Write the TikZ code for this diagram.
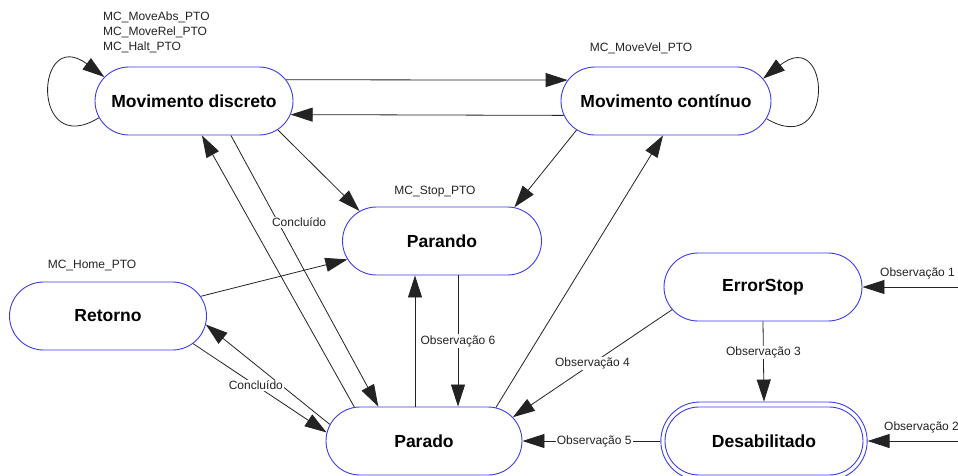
\documentclass[tikz,border=0pt]{standalone}
\usepackage{fontspec}
\setmainfont{Liberation Sans}
\usetikzlibrary{shapes.misc,arrows.meta,calc}
\definecolor{stateblue}{RGB}{60,60,235}
\definecolor{edgegray}{RGB}{35,35,35}

\begin{document}
\begin{tikzpicture}[x=1pt,y=-1pt,
  state/.style={rounded rectangle, draw=stateblue, line width=0.9pt, fill=white,
    minimum height=68pt, inner sep=0pt, font=\fontsize{17.5}{20}\selectfont\bfseries},
  trans/.style={draw=edgegray, line width=0.8pt, -{Triangle[length=22pt,width=14pt]}},
  lbl/.style={font=\fontsize{12}{14}\selectfont, text=edgegray, inner sep=1pt},
  onedge/.style={lbl, fill=white},
]
\clip (0,0) rectangle (958,475);
\fill[white] (0,0) rectangle (958,475);

% states
\node[state, minimum width=198pt] (md) at (194,101) {Movimento discreto};
\node[state, minimum width=210pt] (mc) at (666,101) {Movimento contínuo};
\node[state, minimum width=199pt] (parando) at (442,241) {Parando};
\node[state, minimum width=197pt] (retorno) at (108,316) {Retorno};
\node[state, minimum width=196pt] (parado) at (424,441) {Parado};
\node[state, minimum width=198pt] (errorstop) at (763,287) {ErrorStop};
\node[rounded rectangle, draw=stateblue, line width=0.9pt, fill=white,
      minimum width=213pt, minimum height=78pt] (desabo) at (764,441) {};
\node[state, minimum width=198pt] (desab) at (764,441) {Desabilitado};

% command labels
\node[lbl, anchor=west] (cmd1) at (102,17) {MC\_MoveAbs\_PTO};
\node[lbl, anchor=west] (cmd2) at (102,32) {MC\_MoveRel\_PTO};
\node[lbl, anchor=west] (cmd3) at (102,47) {MC\_Halt\_PTO};
\node[lbl] (cmd4) at (641,48) {MC\_MoveVel\_PTO};
\node[lbl] (cmd5) at (435,192) {MC\_Stop\_PTO};
\node[lbl] (cmd6) at (92,265) {MC\_Home\_PTO};

% self loops
\draw[trans] (md.190) .. controls (30,160) and (35,25) .. (md.165);
\draw[trans] (mc.-10) .. controls (836,160) and (831,25) .. (mc.13);

% transitions
\draw[trans] (md.13) -- (mc.168);
\draw[trans] (mc.188) -- (md.-8);
\draw[trans] (md.-19) -- (parando.160);
\draw[trans] (mc.198) -- (parando.25);
\draw[trans] (parado.154) -- (md.283);
\draw[trans] (md.-43) -- node[onedge, pos=0.32, xshift=21pt] {Concluído} (parado.143.5);
\draw[trans] (parado.25.6) -- (mc.265);
\draw[trans] (retorno.12) -- (parando.191);
\draw[trans] (parado.170) -- (retorno.-5);
\draw[trans] (retorno.-18.6) -- node[onedge, pos=0.47] {Concluído} (parado.175);

\coordinate (pu) at ([xshift=-9pt]parado.north);
\coordinate (pd) at ([xshift=34pt]parado.north);
\draw[trans] (pu) -- (pu |- parando.south);
\draw[trans] (pd |- parando.south) -- node[onedge] {Observação 6} (pd);

\draw[trans] (errorstop.194) -- node[onedge, pos=0.5] {Observação 4} (parado.15);
\draw[trans] (errorstop.south) -- node[onedge, pos=0.39] {Observação 3} (desabo.north);
\draw[trans] (desabo.west) -- node[onedge, pos=0.48] {Observação 5} (parado.east);

% external entries
\coordinate (rim) at (958,0);
\draw[trans] (errorstop.east -| rim) -- (errorstop.east);
\node[lbl, anchor=south west] (obs1) at (879,280) {Observação 1};
\draw[trans] (desabo.east -| rim) -- (desabo.east);
\node[lbl, anchor=south west] (obs2) at (883,434) {Observação 2};
\end{tikzpicture}
\end{document}
